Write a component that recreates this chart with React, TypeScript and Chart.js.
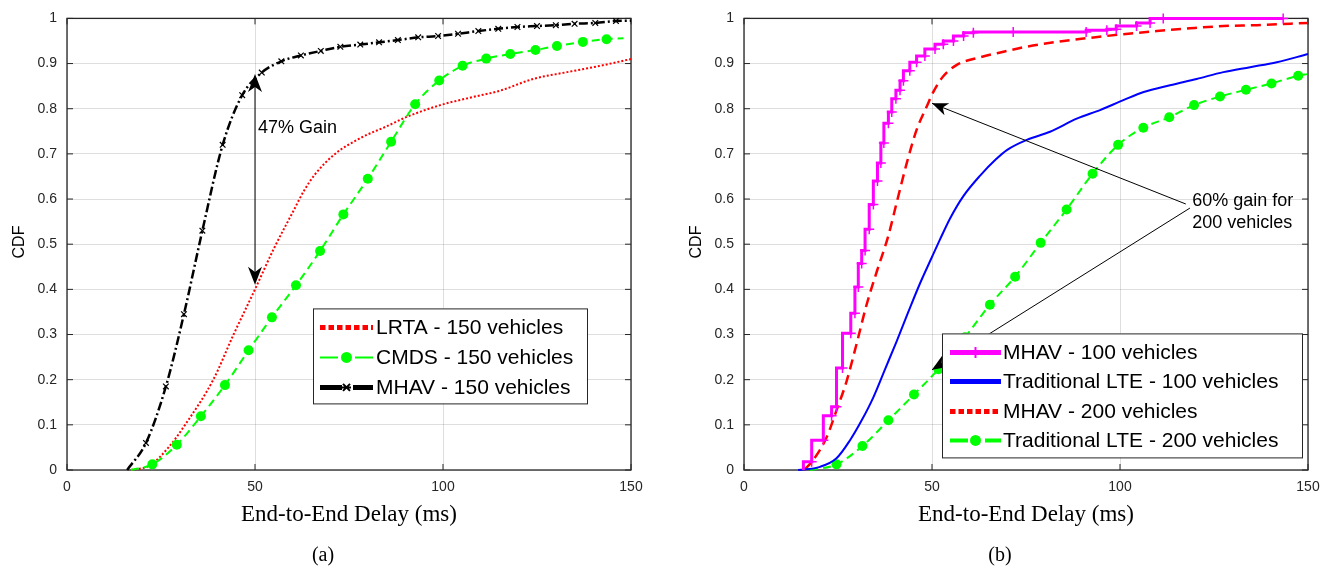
import React, { useEffect, useRef } from "react";
import { Chart, registerables } from "chart.js";

Chart.register(...registerables);

// ---------------- Data: panel (a), 150 vehicles ----------------
const A_LRTA_X = [17, 22, 27, 31.4, 38.9, 44.3, 50, 55, 60.3, 63, 66, 71, 78, 85, 90.4, 99.3, 108, 115.2, 124, 133, 141.8, 150];
const A_LRTA_Y = [0, 0.01, 0.05, 0.1, 0.2, 0.3, 0.4, 0.49, 0.575, 0.618, 0.655, 0.698, 0.735, 0.761, 0.782, 0.808, 0.826, 0.84, 0.866, 0.881, 0.895, 0.91];

const A_CMDS_X = [17, 22.7, 29.2, 35.6, 42, 48.3, 54.5, 60.9, 67.3, 73.5, 80, 86.2, 92.6, 99, 105.2, 111.5, 117.9, 124.6, 130.3, 137.2, 143.5, 148];
const A_CMDS_Y = [0, 0.0125, 0.056, 0.119, 0.188, 0.265, 0.338, 0.409, 0.485, 0.566, 0.645, 0.727, 0.81, 0.8625, 0.895, 0.911, 0.921, 0.93, 0.939, 0.948, 0.954, 0.956];

const A_MHAV_X = [16, 21, 26.3, 31.1, 36, 41.4, 46.6, 51.8, 57, 62.2, 67.5, 72.7, 78, 83, 88, 93.4, 98.7, 104, 109.4, 114.7, 119.8, 125, 130, 135, 140.5, 146, 150];
const A_MHAV_Y = [0, 0.06, 0.185, 0.345, 0.53, 0.72, 0.83, 0.88, 0.905, 0.918, 0.928, 0.937, 0.942, 0.947, 0.952, 0.958, 0.961, 0.966, 0.972, 0.977, 0.981, 0.983, 0.985, 0.988, 0.99, 0.994, 0.995];

// ---------------- Data: panel (b) ----------------
const B_MHAV100_X = [15.8, 18, 21.1, 23.3, 24.6, 26.2, 28.4, 29.5, 30.4, 31.3, 32.2, 33.3, 34.4, 35.5, 36.4, 37.2, 38.4, 39.3, 40.4, 41.5, 42.4, 44.1, 45.9, 48.1, 50.8, 53, 55.7, 58.4, 61, 71.6, 91, 96.5, 99, 104.4, 108, 111.5, 143.4];
const B_MHAV100_Y = [0, 0.018, 0.066, 0.12, 0.14, 0.226, 0.303, 0.347, 0.405, 0.457, 0.486, 0.533, 0.588, 0.64, 0.68, 0.724, 0.768, 0.793, 0.822, 0.841, 0.862, 0.884, 0.903, 0.917, 0.932, 0.943, 0.95, 0.961, 0.968, 0.97, 0.97, 0.974, 0.976, 0.983, 0.99, 1.0, 1.0];

const B_LTE100_X = [14.4, 20.2, 24.6, 28.2, 31.3, 34.4, 37.5, 40.6, 43.7, 46.8, 49.9, 52.1, 54.8, 58.3, 62.8, 67, 70, 75.2, 81.4, 88.5, 94.7, 100.9, 106.3, 113.3, 120.4, 127.5, 134.6, 141.7, 150];
const B_LTE100_Y = [0, 0.007, 0.026, 0.066, 0.11, 0.161, 0.223, 0.285, 0.35, 0.413, 0.47, 0.51, 0.557, 0.606, 0.652, 0.688, 0.709, 0.731, 0.749, 0.778, 0.797, 0.819, 0.837, 0.852, 0.866, 0.881, 0.892, 0.903, 0.921];

const B_MHAV200_X = [16, 18.4, 22, 24.6, 27.3, 29.9, 32.6, 35.3, 38.4, 40.6, 43.3, 45.9, 48.6, 50.4, 53, 56.6, 62.8, 70, 74.3, 83.2, 92, 100.9, 109.8, 118.6, 127.5, 136.4, 150];
const B_MHAV200_Y = [0, 0.022, 0.073, 0.132, 0.197, 0.278, 0.366, 0.439, 0.519, 0.592, 0.68, 0.753, 0.805, 0.838, 0.872, 0.897, 0.914, 0.928, 0.936, 0.948, 0.957, 0.965, 0.972, 0.978, 0.983, 0.985, 0.99];

const B_LTE200_X = [17.6, 24.6, 31.5, 38.4, 45.2, 51.7, 58.8, 65.4, 72.1, 78.9, 85.8, 92.7, 99.5, 106.2, 113.1, 119.7, 126.6, 133.5, 140.3, 147.4, 150];
const B_LTE200_Y = [0, 0.0125, 0.053, 0.11, 0.167, 0.223, 0.294, 0.366, 0.428, 0.503, 0.577, 0.656, 0.72, 0.758, 0.781, 0.808, 0.827, 0.842, 0.856, 0.873, 0.877];

// ---------------- Axes & labels ----------------
const X_TICKS = [0, 50, 100, 150];
const Y_TICKS = [0, 0.1, 0.2, 0.3, 0.4, 0.5, 0.6, 0.7, 0.8, 0.9, 1];
const X_TITLE = "End-to-End Delay (ms)";
const Y_TITLE = "CDF";
const A_LABELS = ["LRTA - 150 vehicles", "CMDS - 150 vehicles", "MHAV - 150 vehicles"];
const B_LABELS = ["MHAV - 100 vehicles", "Traditional LTE - 100 vehicles", "MHAV - 200 vehicles", "Traditional LTE - 200 vehicles"];
const A_NOTE = "47% Gain";
const B_NOTE = ["60% gain for", "200 vehicles"];

// ---------------- Styling ----------------
const SANS = "'Liberation Sans', Arial, Helvetica, sans-serif";
const SERIF = "'Liberation Serif', 'Times New Roman', serif";
const AXIS = "#262626";
const GRID = "rgba(0,0,0,0.13)";

const W = 1330;
const H = 569;

type Marker = "circle" | "x" | "plus" | undefined;
type Item = { label: string; color: string; width: number; dash: number[]; marker: Marker };

function pts(xs: number[], ys: number[]) {
  return xs.map((x, i) => ({ x, y: ys[i] }));
}

function drawMarker(ctx: CanvasRenderingContext2D, m: Marker, x: number, y: number, color: string) {
  if (!m) return;
  ctx.save();
  ctx.setLineDash([]);
  if (m === "circle") {
    ctx.fillStyle = color;
    ctx.beginPath();
    ctx.arc(x, y, 5.5, 0, Math.PI * 2);
    ctx.fill();
  } else if (m === "x") {
    ctx.strokeStyle = color;
    ctx.lineWidth = 2;
    const r = 3.5;
    ctx.beginPath();
    ctx.moveTo(x - r, y - r); ctx.lineTo(x + r, y + r);
    ctx.moveTo(x - r, y + r); ctx.lineTo(x + r, y - r);
    ctx.moveTo(x - r - 1, y); ctx.lineTo(x + r + 1, y);
    ctx.stroke();
  } else if (m === "plus") {
    ctx.strokeStyle = color;
    ctx.lineWidth = 2;
    const r = 5.5;
    ctx.beginPath();
    ctx.moveTo(x - r, y); ctx.lineTo(x + r, y);
    ctx.moveTo(x, y - r); ctx.lineTo(x, y + r);
    ctx.stroke();
  }
  ctx.restore();
}

function arrowHead(ctx: CanvasRenderingContext2D, fx: number, fy: number, tx: number, ty: number, len: number, half: number) {
  const a = Math.atan2(ty - fy, tx - fx);
  const c = Math.cos(a), s = Math.sin(a);
  const bx = tx - len * c, by = ty - len * s;
  const nx = tx - len * 0.72 * c, ny = ty - len * 0.72 * s;
  ctx.beginPath();
  ctx.moveTo(tx, ty);
  ctx.lineTo(bx - half * s, by + half * c);
  ctx.lineTo(nx, ny);
  ctx.lineTo(bx + half * s, by - half * c);
  ctx.closePath();
  ctx.fill();
}

type Spec = {
  legend: { dx: number; dy: number; w: number; h: number; rows: number[]; s0: number; s1: number; tx: number; items: Item[] };
  sub: string;
  annotate: (ctx: CanvasRenderingContext2D, xs: any, ys: any, ca: any) => void;
};

function decor(spec: Spec) {
  return {
    id: "decor",
    beforeDatasetsDraw(chart: any) {
      const { ctx, chartArea: ca, scales } = chart;
      const xs = scales.x, ys = scales.y;
      ctx.save();
      // axes box (below the data, like MATLAB's default layer)
      ctx.strokeStyle = AXIS;
      ctx.lineWidth = 1.3;
      ctx.setLineDash([]);
      ctx.strokeRect(ca.left, ca.top, ca.right - ca.left, ca.bottom - ca.top);
      // inward ticks
      ctx.lineWidth = 1;
      ctx.beginPath();
      X_TICKS.forEach((v) => {
        const p = xs.getPixelForValue(v);
        ctx.moveTo(p, ca.bottom); ctx.lineTo(p, ca.bottom - 6);
        ctx.moveTo(p, ca.top); ctx.lineTo(p, ca.top + 6);
      });
      Y_TICKS.forEach((v) => {
        const p = ys.getPixelForValue(v);
        ctx.moveTo(ca.left, p); ctx.lineTo(ca.left + 6, p);
        ctx.moveTo(ca.right, p); ctx.lineTo(ca.right - 6, p);
      });
      ctx.stroke();
      ctx.restore();
    },
    afterDatasetsDraw(chart: any) {
      const { ctx, chartArea: ca, scales } = chart;
      const xs = scales.x, ys = scales.y;
      ctx.save();

      // annotations
      spec.annotate(ctx, xs, ys, ca);

      // legend
      const L = spec.legend;
      const lx = ca.left + L.dx, ly = ca.top + L.dy;
      ctx.fillStyle = "#ffffff";
      ctx.fillRect(lx, ly, L.w, L.h);
      ctx.strokeStyle = AXIS;
      ctx.lineWidth = 1;
      ctx.setLineDash([]);
      ctx.strokeRect(lx + 0.5, ly + 0.5, L.w, L.h);
      L.items.forEach((it, i) => {
        const y = ly + L.rows[i];
        ctx.save();
        ctx.strokeStyle = it.color;
        ctx.lineWidth = it.width;
        ctx.setLineDash(it.dash);
        ctx.beginPath();
        ctx.moveTo(lx + L.s0, y);
        ctx.lineTo(lx + L.s1, y);
        ctx.stroke();
        ctx.restore();
        drawMarker(ctx, it.marker, lx + (L.s0 + L.s1) / 2, y, it.color);
        ctx.fillStyle = "#000";
        ctx.font = `21px ${SANS}`;
        ctx.textAlign = "left";
        ctx.textBaseline = "middle";
        ctx.fillText(it.label, lx + L.tx, y + 1);
      });

      // axis titles
      const cx = (ca.left + ca.right) / 2;
      ctx.fillStyle = "#000";
      ctx.font = `23px ${SERIF}`;
      ctx.textAlign = "center";
      ctx.textBaseline = "alphabetic";
      ctx.fillText(X_TITLE, cx, 521);
      ctx.font = `20px ${SERIF}`;
      ctx.fillText(spec.sub, cx - 26, 561);
      ctx.save();
      ctx.translate(ca.left - 47, 242);
      ctx.rotate(-Math.PI / 2);
      ctx.font = `16px ${SANS}`;
      ctx.textBaseline = "middle";
      ctx.fillText(Y_TITLE, 0, 0);
      ctx.restore();
      ctx.restore();
    },
  };
}

function baseOptions(yWidth: number, padRight: number) {
  return {
    responsive: true,
    maintainAspectRatio: false,
    animation: false as const,
    layout: { padding: { left: 0, right: padRight, top: 14, bottom: 0 } },
    plugins: { legend: { display: false }, tooltip: { enabled: false } },
    elements: { line: { tension: 0 } },
    scales: {
      x: {
        type: "linear" as const,
        min: 0,
        max: 150,
        afterBuildTicks: (s: any) => { s.ticks = X_TICKS.map((v) => ({ value: v })); },
        afterFit: (s: any) => { s.height = H - 470; },
        ticks: { autoSkip: false, maxRotation: 0, padding: 9, color: AXIS, font: { family: SANS, size: 14 } },
        grid: { color: GRID, drawTicks: false, lineWidth: 1 },
        border: { display: false },
      },
      y: {
        type: "linear" as const,
        min: 0,
        max: 1,
        afterBuildTicks: (s: any) => { s.ticks = Y_TICKS.map((v) => ({ value: v })); },
        afterFit: (s: any) => { s.width = yWidth; },
        ticks: {
          padding: 10,
          color: AXIS,
          font: { family: SANS, size: 14 },
          callback: (v: any) => String(Math.round(Number(v) * 10) / 10),
        },
        grid: { color: GRID, drawTicks: false, lineWidth: 1 },
        border: { display: false },
      },
    },
  };
}

function markerRadius(n: number, r: number, skipLast = false) {
  return Array.from({ length: n }, (_, i) => (i === 0 || (skipLast && i === n - 1) ? 0 : r));
}

function configA() {
  const spec: Spec = {
    sub: "(a)",
    legend: {
      dx: 246, dy: 290, w: 274, h: 95, rows: [19, 49, 79], s0: 7, s1: 60, tx: 63,
      items: [
        { label: A_LABELS[0], color: "#ff0000", width: 5, dash: [5.5, 3], marker: undefined },
        { label: A_LABELS[1], color: "#00ff00", width: 2, dash: [18, 17], marker: "circle" },
        { label: A_LABELS[2], color: "#000000", width: 5, dash: [22, 11], marker: "x" },
      ],
    },
    annotate: (ctx, xs, ys) => {
      const x = xs.getPixelForValue(50);
      const yTop = ys.getPixelForValue(0.877);
      const yBot = ys.getPixelForValue(0.41);
      ctx.strokeStyle = "#000";
      ctx.fillStyle = "#000";
      ctx.lineWidth = 1;
      ctx.setLineDash([]);
      ctx.beginPath();
      ctx.moveTo(x, yTop + 10);
      ctx.lineTo(x, yBot - 10);
      ctx.stroke();
      arrowHead(ctx, x, yBot, x, yTop, 18, 7);
      arrowHead(ctx, x, yTop, x, yBot, 18, 7);
      ctx.font = `18px ${SANS}`;
      ctx.textAlign = "left";
      ctx.textBaseline = "middle";
      ctx.fillText(A_NOTE, x + 3, ys.getPixelForValue(0.757));
    },
  };
  return {
    type: "line" as const,
    data: {
      datasets: [
        {
          data: pts(A_MHAV_X, A_MHAV_Y),
          borderColor: "#000000",
          borderWidth: 2.5,
          borderDash: [9, 3, 2, 3],
          pointStyle: "crossRot",
          pointRadius: markerRadius(A_MHAV_X.length, 4, true),
          pointBorderWidth: 1.2,
          pointBorderColor: "#000000",
          cubicInterpolationMode: "monotone",
          clip: false,
        },
        {
          data: pts(A_CMDS_X, A_CMDS_Y),
          borderColor: "#00ff00",
          borderWidth: 2,
          borderDash: [8, 5],
          pointStyle: "circle",
          pointRadius: markerRadius(A_CMDS_X.length, 5, true),
          pointBorderWidth: 0,
          pointBackgroundColor: "#00ff00",
          cubicInterpolationMode: "monotone",
          clip: false,
        },
        {
          data: pts(A_LRTA_X, A_LRTA_Y),
          borderColor: "#ff0000",
          borderWidth: 2,
          borderDash: [2, 2],
          pointRadius: 0,
          cubicInterpolationMode: "monotone",
          clip: false,
        },
      ],
    },
    options: baseOptions(67, 665 - 631),
    plugins: [decor(spec)],
  };
}

function configB() {
  const spec: Spec = {
    sub: "(b)",
    legend: {
      dx: 198, dy: 315, w: 360, h: 124, rows: [19, 48, 78, 107], s0: 8, s1: 59, tx: 61,
      items: [
        { label: B_LABELS[0], color: "#ff00ff", width: 5, dash: [], marker: "plus" },
        { label: B_LABELS[1], color: "#0000ff", width: 5, dash: [], marker: undefined },
        { label: B_LABELS[2], color: "#ff0000", width: 5, dash: [5.5, 3], marker: undefined },
        { label: B_LABELS[3], color: "#00ff00", width: 4, dash: [18, 17], marker: "circle" },
      ],
    },
    annotate: (ctx, xs, ys) => {
      ctx.strokeStyle = "#000";
      ctx.fillStyle = "#000";
      ctx.lineWidth = 1;
      ctx.setLineDash([]);
      const t1x = xs.getPixelForValue(50), t1y = ys.getPixelForValue(0.812);
      const t2x = xs.getPixelForValue(50), t2y = ys.getPixelForValue(0.222);
      const o1x = xs.getPixelForValue(117.5), o1y = ys.getPixelForValue(0.589);
      const o2x = xs.getPixelForValue(118.6), o2y = ys.getPixelForValue(0.58);
      ctx.beginPath();
      ctx.moveTo(o1x, o1y); ctx.lineTo(t1x, t1y);
      ctx.moveTo(o2x, o2y); ctx.lineTo(t2x, t2y);
      ctx.stroke();
      arrowHead(ctx, o1x, o1y, t1x, t1y, 16, 6.5);
      arrowHead(ctx, o2x, o2y, t2x, t2y, 16, 6.5);
      ctx.font = `18px ${SANS}`;
      ctx.textAlign = "left";
      ctx.textBaseline = "middle";
      const tx = xs.getPixelForValue(119.2);
      ctx.fillText(B_NOTE[0], tx, ys.getPixelForValue(0.596));
      ctx.fillText(B_NOTE[1], tx, ys.getPixelForValue(0.546));
    },
  };
  return {
    type: "line" as const,
    data: {
      datasets: [
        {
          data: pts(B_MHAV100_X, B_MHAV100_Y),
          borderColor: "#ff00ff",
          borderWidth: 3,
          stepped: "after",
          pointStyle: "cross",
          pointRadius: markerRadius(B_MHAV100_X.length, 5),
          pointBorderWidth: 1.5,
          pointBorderColor: "#ff00ff",
          clip: false,
        },
        {
          data: pts(B_LTE100_X, B_LTE100_Y),
          borderColor: "#0000ff",
          borderWidth: 2,
          pointRadius: 0,
          cubicInterpolationMode: "monotone",
          clip: false,
        },
        {
          data: pts(B_MHAV200_X, B_MHAV200_Y),
          borderColor: "#ff0000",
          borderWidth: 2.5,
          borderDash: [10, 6],
          pointRadius: 0,
          cubicInterpolationMode: "monotone",
          clip: false,
        },
        {
          data: pts(B_LTE200_X, B_LTE200_Y),
          borderColor: "#00ff00",
          borderWidth: 2,
          borderDash: [8, 5],
          pointStyle: "circle",
          pointRadius: markerRadius(B_LTE200_X.length, 5, true),
          pointBorderWidth: 0,
          pointBackgroundColor: "#00ff00",
          cubicInterpolationMode: "monotone",
          clip: false,
        },
      ],
    },
    options: baseOptions(744 - 665, 665 - (1308 - 665)),
    plugins: [decor(spec)],
  };
}

function Panel({ left, width, make }: { left: number; width: number; make: () => any }) {
  const ref = useRef<HTMLCanvasElement>(null);
  useEffect(() => {
    if (!ref.current) return;
    const chart = new Chart(ref.current, make());
    return () => chart.destroy();
  }, [make]);
  return (
    <div style={{ position: "absolute", left, top: 0, width, height: H }}>
      <canvas ref={ref} />
    </div>
  );
}

export default function App() {
  return (
    <div style={{ position: "absolute", left: 0, top: 0, width: W, height: H, background: "#fff", overflow: "hidden" }}>
      <Panel left={0} width={665} make={configA} />
      <Panel left={665} width={665} make={configB} />
    </div>
  );
}
